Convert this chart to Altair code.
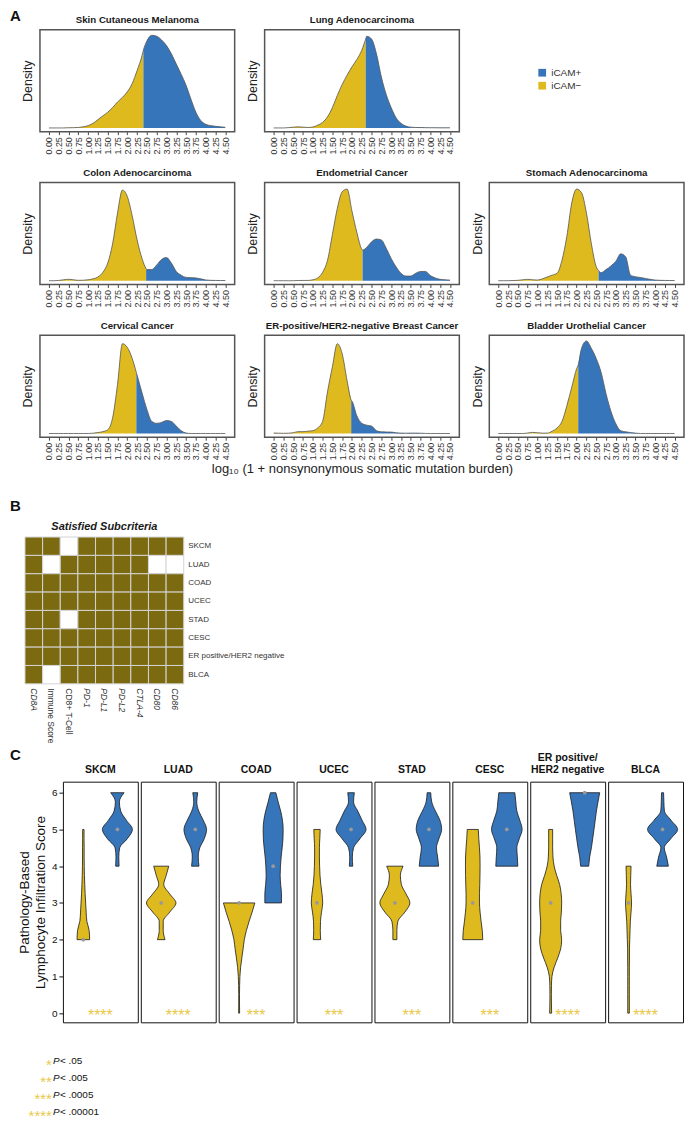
import altair as alt
import pandas as pd

BLUE = "#3775BA"
YELLOW = "#DEBA1E"
STAR = "#E9C84A"
OLIVE = "#7B6A0F"
NARROW = "Liberation Sans Narrow, Liberation Sans, Arial, sans-serif"
SANS = "Liberation Sans, Arial, sans-serif"

groups = ["iCAM+", "iCAM\u2212"]
group_colors = [BLUE, YELLOW]

# ---------------- Panel A : density of log10(1 + TMB) ----------------
x_grid = [0.0, 0.125, 0.25, 0.375, 0.5, 0.625, 0.75, 0.875, 1.0, 1.125, 1.25, 1.375,
          1.5, 1.625, 1.75, 1.875, 2.0, 2.125, 2.25, 2.375, 2.5, 2.625, 2.75, 2.875,
          3.0, 3.125, 3.25, 3.375, 3.5, 3.625, 3.75, 3.875, 4.0, 4.125, 4.25, 4.375, 4.5]
x_ticks = [0.0, 0.25, 0.5, 0.75, 1.0, 1.25, 1.5, 1.75, 2.0, 2.25, 2.5, 2.75, 3.0,
           3.25, 3.5, 3.75, 4.0, 4.25, 4.5]

density_titles = ["Skin Cutaneous Melanoma", "Lung Adenocarcinoma", "Colon Adenocarcinoma",
                  "Endometrial Cancer", "Stomach Adenocarcinoma", "Cervical Cancer",
                  "ER-positive/HER2-negative Breast Cancer", "Bladder Urothelial Cancer"]

skcm_density = [0, 0, 0, 0, 0.002, 0.003, 0.005, 0.012, 0.025, 0.05, 0.09, 0.13, 0.17, 0.22,
                0.28, 0.33, 0.39, 0.48, 0.62, 0.78, 0.94, 1.0, 0.99, 0.95, 0.89, 0.80, 0.69,
                0.58, 0.46, 0.31, 0.17, 0.08, 0.04, 0.025, 0.018, 0.012, 0.007]
luad_density = [0, 0, 0, 0.003, 0.008, 0.012, 0.008, 0.005, 0.01, 0.03, 0.06, 0.12, 0.22, 0.35,
                0.47, 0.57, 0.66, 0.74, 0.84, 0.99, 0.96, 0.80, 0.55, 0.36, 0.22, 0.11, 0.05,
                0.02, 0.008, 0.005, 0.004, 0.003, 0.002, 0.002, 0.001, 0.001, 0.001]
coad_density = [0, 0, 0.003, 0.01, 0.015, 0.01, 0.004, 0.005, 0.01, 0.02, 0.04, 0.09, 0.19, 0.40,
                0.73, 0.98, 0.91, 0.70, 0.44, 0.24, 0.12, 0.12, 0.17, 0.23, 0.25, 0.19, 0.10,
                0.06, 0.036, 0.033, 0.03, 0.02, 0.008, 0.004, 0.003, 0.002, 0.002]
ucec_density = [0, 0, 0, 0, 0, 0.002, 0.003, 0.003, 0.01, 0.03, 0.09, 0.22, 0.50, 0.78, 0.96,
                0.99, 0.75, 0.52, 0.34, 0.36, 0.42, 0.45, 0.44, 0.35, 0.24, 0.15, 0.08, 0.05,
                0.05, 0.08, 0.10, 0.10, 0.055, 0.03, 0.015, 0.01, 0.007]
stad_density = [0, 0, 0, 0.002, 0.004, 0.01, 0.015, 0.01, 0.007, 0.02, 0.04, 0.06, 0.08, 0.22,
                0.48, 0.84, 0.99, 0.95, 0.73, 0.40, 0.15, 0.087, 0.12, 0.16, 0.21, 0.29, 0.26,
                0.06, 0.043, 0.035, 0.025, 0.015, 0.007, 0.004, 0.003, 0.002, 0.002]
cesc_density = [0, 0, 0, 0, 0, 0, 0, 0, 0, 0.003, 0.01, 0.02, 0.04, 0.17, 0.53, 0.97, 0.93,
                0.81, 0.63, 0.44, 0.26, 0.13, 0.11, 0.12, 0.14, 0.13, 0.08, 0.03, 0.005, 0, 0,
                0, 0, 0, 0, 0, 0]
brca_density = [0.005, 0.003, 0.002, 0.003, 0.008, 0.02, 0.02, 0.025, 0.03, 0.06, 0.13, 0.45,
                0.72, 0.97, 0.86, 0.57, 0.35, 0.19, 0.11, 0.09, 0.08, 0.03, 0.018, 0.016, 0.015,
                0.008, 0.004, 0.003, 0.004, 0.004, 0.003, 0.001, 0, 0, 0, 0, 0]
blca_density = [0, 0, 0, 0, 0, 0, 0.005, 0.012, 0.008, 0.004, 0.004, 0.025, 0.06, 0.13, 0.30,
                0.50, 0.70, 0.92, 1.0, 0.92, 0.81, 0.66, 0.43, 0.24, 0.105, 0.03, 0.018, 0.01,
                0.004, 0, 0, 0, 0, 0, 0, 0, 0]
densities = [skcm_density, luad_density, coad_density, ucec_density,
             stad_density, cesc_density, brca_density, blca_density]
split_x = [2.41, 2.35, 2.48, 2.27, 2.56, 2.23, 1.98, 2.04]
split_h = [0.84, 0.96, 0.13, 0.33, 0.11, 0.66, 0.36, 0.74]

# ---------------- Panel B : satisfied subcriteria ----------------
criteria = ["CD8A", "Immune Score", "CD8+ T-Cell", "PD-1", "PD-L1", "PD-L2", "CTLA-4", "CD80", "CD86"]
heat_cancers = ["SKCM", "LUAD", "COAD", "UCEC", "STAD", "CESC", "ER positive/HER2 negative", "BLCA"]
satisfied = [
    [1, 1, 0, 1, 1, 1, 1, 1, 1],
    [1, 0, 1, 1, 1, 1, 1, 0, 0],
    [1, 1, 1, 1, 1, 1, 1, 1, 1],
    [1, 1, 1, 1, 1, 1, 1, 1, 1],
    [1, 1, 0, 1, 1, 1, 1, 1, 1],
    [1, 1, 1, 1, 1, 1, 1, 1, 1],
    [1, 1, 1, 1, 1, 1, 1, 1, 1],
    [1, 0, 1, 1, 1, 1, 1, 1, 1],
]

# ---------------- Panel C : violins of lymphocyte infiltration score ----------------
vio_titles = ["SKCM", "LUAD", "COAD", "UCEC", "STAD", "CESC", ["ER positive/", "HER2 negative"], "BLCA"]
neg_start = [2, 2, 0, 2, 2, 2, 0, 0]
pos_start = [4, 4, 3, 4, 4, 4, 4, 4]
# half widths (step 0.25 in score)
neg_widths = [
    [6.3, 5.8, 3.5, 2.8, 2.3, 1.8, 1.4, 1.1, 0.9, 0.8, 0.8, 0.7, 0.7],
    [3.8, 2.0, 2.0, 8.5, 14.7, 8.3, 2.5, 5.0, 7.5],
    [0.5, 0.4, 0.4, 0.5, 0.8, 1.5, 2.7, 4.0, 5.2, 7.3, 10, 13, 15.7],
    [3.7, 3.3, 3.5, 4.5, 5.7, 5.0, 3.8, 3.0, 2.6, 2.4, 2.4, 2.8, 3.2],
    [2, 2, 3, 10, 15, 11, 6.5, 5.5, 8.2],
    [10, 9.5, 8.3, 7.3, 6.7, 6.7, 7.0, 7.2, 7.3, 7.2, 6.7, 6.0, 5.5],
    [1, 0.8, 0.7, 0.8, 1.3, 3.5, 7, 10, 11, 10, 10, 10.7, 11, 10.5, 9, 6, 3.5, 2.3, 2, 2, 2],
    [0.8, 0.8, 0.8, 0.8, 0.8, 0.8, 0.9, 0.9, 1.2, 1.5, 1.8, 2.5, 3.0, 2.5, 2.0, 2.2, 2.5],
]
pos_widths = [
    [1.7, 1.4, 2.3, 10, 15, 9, 3.3, 2, 6.7],
    [3.7, 3.0, 4.5, 9, 11.3, 8, 3.5, 1.5, 2.5],
    [8.3, 8.3, 7.5, 7.0, 7.3, 8.0, 9.0, 9.8, 10, 9.3, 7.5, 5.0, 2.7],
    [1.7, 1.3, 2.5, 9, 15, 11, 6.7, 2.5, 3.3],
    [9.7, 8.7, 7.5, 10, 12.7, 11, 6.5, 2.8, 1.8],
    [11, 10.5, 10, 12.5, 15.3, 13, 10, 9, 8],
    [4, 5, 6.7, 8, 9.3, 10.5, 11.7, 13.3, 15],
    [5.8, 4, 1.7, 8.3, 15, 8.5, 1.8, 1.3, 1],
]
medians_neg = [2, 3, 3, 3, 3, 3, 3, 3]
medians_pos = [5, 5, 4, 5, 5, 5, 6, 5]
p_marks = ["****", "****", "***", "***", "***", "***", "****", "****"]
y_ticks = [0, 1, 2, 3, 4, 5, 6]

p_stars = ["*", "**", "***", "****"]
p_labels = ["< .05", "< .005", "< .0005", "< .00001"]

PX = 34.0  # violin width units

color_scale = alt.Scale(domain=groups, range=group_colors)
legend = alt.Legend(orient="none", legendX=529, legendY=38, title=None, symbolType="square",
                    symbolSize=60, symbolStrokeWidth=0, labelFontSize=10, labelFont=SANS,
                    labelColor="#333", rowPadding=3)


def spacer(w):
    return alt.Chart(pd.DataFrame({"s": [0]})).mark_point(opacity=0).properties(
        width=w, height=1, view=alt.ViewBackground(stroke="transparent"))


def section_title(t, off):
    return alt.Title(t, anchor="start", frame="group", fontSize=15, fontWeight="bold",
                     font=SANS, dx=1, offset=off, color="#111")


def density_chart(i, xtitle=None):
    vals = densities[i]
    sx, sh = split_x[i], split_h[i]
    rows = [(x, d, groups[1]) for x, d in zip(x_grid, vals) if x < sx]
    rows += [(sx, sh, groups[1]), (sx, sh, groups[0])]
    rows += [(x, d, groups[0]) for x, d in zip(x_grid, vals) if x > sx]
    adf = pd.DataFrame(rows, columns=["x", "d", "group"])
    ldf = adf.drop_duplicates(subset=["x"]).sort_values("x")
    xs = alt.Scale(domain=[-0.23, 4.74], nice=False, zero=False)
    ys = alt.Scale(domain=[-0.04, 1.06], nice=False, zero=False)
    xaxis = alt.Axis(values=x_ticks, format=".2f", labelAngle=270, labelFontSize=9,
                     labelFont=NARROW, tickSize=3, domain=False, grid=False, labelPadding=2,
                     title=xtitle, titleFont=NARROW, titleFontSize=13, titleFontWeight="normal",
                     titlePadding=3, labelColor="#333", tickColor="#444")
    yaxis = alt.Axis(title="Density", labels=False, ticks=False, domain=False, grid=False,
                     titleFont=NARROW, titleFontSize=12.5, titleFontWeight="normal",
                     titlePadding=5, titleColor="#222")
    area = alt.Chart(adf).mark_area(interpolate="monotone").encode(
        x=alt.X("x:Q", scale=xs, axis=xaxis),
        y=alt.Y("d:Q", scale=ys, axis=yaxis, stack=None),
        color=alt.Color("group:N", scale=color_scale, legend=legend),
    )
    line = alt.Chart(ldf).mark_line(interpolate="monotone", color="#555", strokeWidth=0.8).encode(
        x=alt.X("x:Q", scale=xs, axis=xaxis),
        y=alt.Y("d:Q", scale=ys, axis=yaxis),
    )
    return alt.layer(area, line).properties(
        width=195, height=102,
        title=alt.Title(density_titles[i], fontSize=9.7, fontWeight="bold", font=SANS,
                        offset=5, frame="group", color="#1a1a1a"),
        view=alt.ViewBackground(stroke="#555", strokeWidth=1.5),
    )


rowA1 = alt.hconcat(density_chart(0), density_chart(1), spacing=30, bounds="flush")
rowA2 = alt.hconcat(density_chart(2), density_chart(3), density_chart(4), spacing=30, bounds="flush")
rowA3 = alt.hconcat(density_chart(5),
                    density_chart(6, "log\u2081\u2080 (1 + nonsynonymous somatic mutation burden)"),
                    density_chart(7), spacing=30, bounds="flush")
A_content = alt.vconcat(rowA1, rowA2, rowA3, spacing=11)
SA = alt.hconcat(spacer(31), A_content, spacing=0, bounds="flush", title=section_title("A", -10))

# ---- Panel B ----
heat_rows = []
for ci, c in enumerate(heat_cancers):
    for ki, k in enumerate(criteria):
        heat_rows.append({"cancer": c, "crit": k, "sat": satisfied[ci][ki]})
heat_df = pd.DataFrame(heat_rows)
heat = alt.Chart(heat_df).mark_rect(stroke="#d4d4d4", strokeWidth=1).encode(
    x=alt.X("crit:N", sort=criteria,
            axis=alt.Axis(title=None, labelAngle=90, ticks=False, domain=False, labelFontSize=8.5,
                          labelPadding=4, labelColor="#333", labelFont=SANS,
                          labelFontStyle={"condition": {"test": "datum.value == 'Immune Score' || datum.value == 'CD8+ T-Cell'",
                                                        "value": "normal"}, "value": "italic"})),
    y=alt.Y("cancer:N", sort=heat_cancers,
            axis=alt.Axis(title=None, orient="right", ticks=False, domain=False, labelFontSize=8,
                          labelPadding=4, labelColor="#333", labelFont=SANS)),
    fill=alt.condition("datum.sat == 1", alt.value(OLIVE), alt.value("white")),
).properties(
    width=159, height=147,
    title=alt.Title("Satisfied Subcriteria", fontSize=11, fontStyle="italic", fontWeight="bold",
                    font=SANS, offset=5, frame="group", color="#1a1a1a"),
    view=alt.ViewBackground(stroke="transparent"),
)
SB = alt.hconcat(spacer(16), heat, spacing=0, bounds="flush", title=section_title("B", 6))


# ---- Panel C ----
def violin_chart(i):
    rows = []
    for grp, center, lo, ws in ((groups[1], 1.0, neg_start[i], neg_widths[i]),
                                (groups[0], 2.0, pos_start[i], pos_widths[i])):
        for k, w in enumerate(ws):
            rows.append({"group": grp, "y": lo + 0.25 * k, "lo": center - w / PX, "hi": center + w / PX})
    vdf = pd.DataFrame(rows)
    mdf = pd.DataFrame({"xc": [1.0, 2.0], "med": [medians_neg[i], medians_pos[i]]})
    sdf = pd.DataFrame({"xc": [1.5], "ys": [0.0], "stars": [p_marks[i]]})
    xs = alt.Scale(domain=[0.4, 2.6], nice=False, zero=False)
    ys = alt.Scale(domain=[-0.25, 6.3], nice=False, zero=False)
    if i == 0:
        yaxis = alt.Axis(values=y_ticks, format="d", title=["Pathology-Based", "Lymphocyte Infiltration Score"],
                         titleFont=NARROW, titleFontSize=13.5, titleFontWeight="normal", titlePadding=4,
                         labelFontSize=10, labelFont=SANS, tickSize=4, domain=False, grid=False,
                         tickColor="#111", labelColor="#111", titleColor="#111", labelPadding=2)
    else:
        yaxis = None
    area = alt.Chart(vdf).mark_area(orient="horizontal", interpolate="monotone", stroke="#1a1a1a",
                                    strokeWidth=0.8).encode(
        y=alt.Y("y:Q", scale=ys, axis=yaxis),
        x=alt.X("lo:Q", scale=xs, axis=None, stack=None),
        x2="hi:Q",
        color=alt.Color("group:N", scale=color_scale, legend=legend),
    )
    dots = alt.Chart(mdf).mark_circle(size=14, color="#999999", opacity=1).encode(
        x=alt.X("xc:Q", scale=xs, axis=None),
        y=alt.Y("med:Q", scale=ys, axis=yaxis),
    )
    stars = alt.Chart(sdf).mark_text(color=STAR, fontSize=16, dy=3, font=SANS).encode(
        x=alt.X("xc:Q", scale=xs, axis=None),
        y=alt.Y("ys:Q", scale=ys, axis=yaxis),
        text="stars:N",
    )
    return alt.layer(area, dots, stars).properties(
        width=75, height=241,
        title=alt.Title(vio_titles[i], fontSize=10.5, fontWeight="bold", font=SANS, offset=6,
                        frame="group", color="#111"),
        view=alt.ViewBackground(stroke="#111", strokeWidth=1),
    )


vio_row = alt.hconcat(*[violin_chart(i) for i in range(8)], spacing=3, bounds="flush")

pdf = pd.DataFrame({"k": [0, 1, 2, 3], "stars": p_stars, "label": p_labels})
pbase = alt.Chart(pdf).encode(y=alt.Y("k:O", axis=None))
p_st = pbase.mark_text(align="right", color=STAR, fontSize=15, dy=4, font=SANS).encode(
    x=alt.value(-11), text="stars:N")
p_p = pbase.mark_text(align="left", fontStyle="italic", fontSize=10, font=SANS, color="#111").encode(
    x=alt.value(-10), text=alt.value("P"))
p_l = pbase.mark_text(align="left", fontSize=10, font=SANS, color="#111").encode(
    x=alt.value(-3), text="label:N")
plegend = alt.layer(p_st, p_p, p_l).properties(width=60, height=68,
                                               view=alt.ViewBackground(stroke="transparent"))

C_content = alt.vconcat(vio_row, plegend, spacing=26)
SC = alt.hconcat(spacer(54), C_content, spacing=0, bounds="flush", title=section_title("C", -11))

chart = alt.vconcat(alt.vconcat(SA, SB, spacing=22), SC, spacing=4).properties(
    padding=0
).configure(font=SANS).configure_axis(labelColor="#222", titleColor="#222")

chart.save("out.html", embed_options={"renderer": "svg", "actions": False})
